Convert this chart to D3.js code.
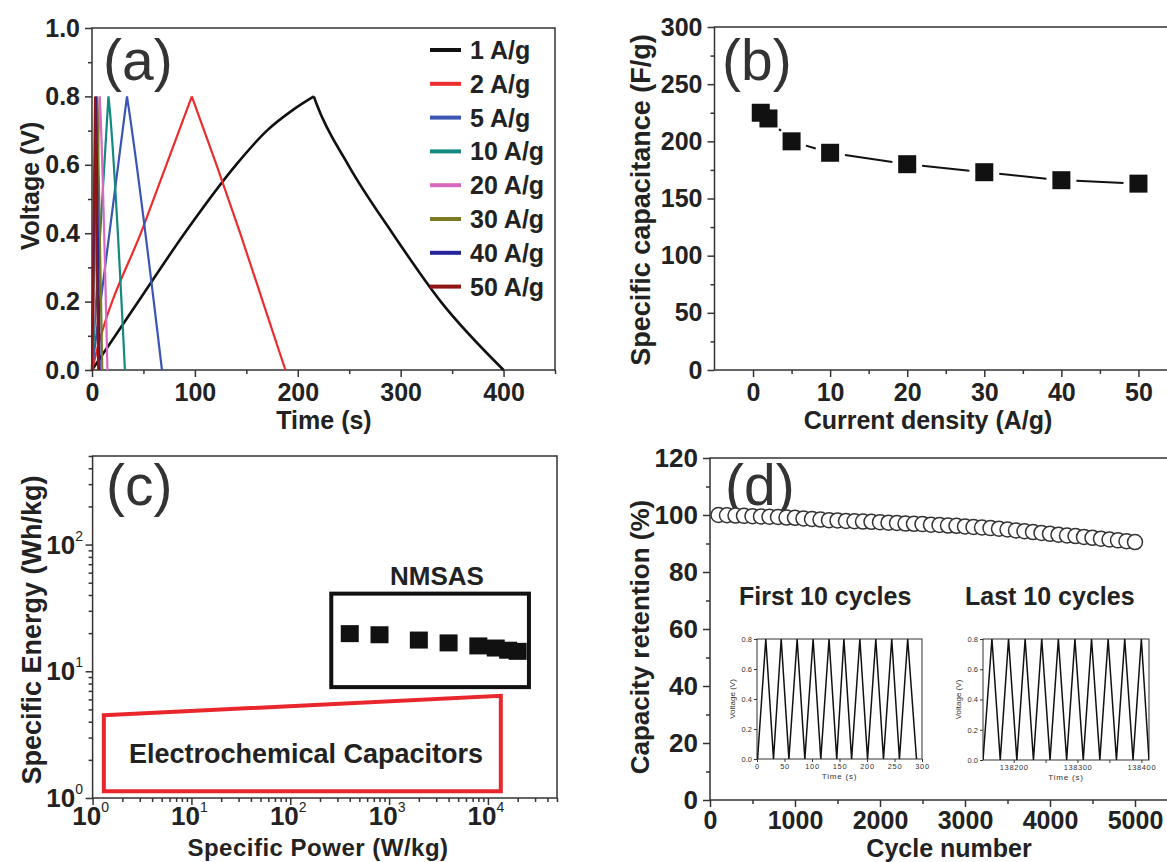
<!DOCTYPE html>
<html>
<head>
<meta charset="utf-8">
<title>Electrochemical performance</title>
<script src="https://cdn.jsdelivr.net/npm/d3@7"></script>
<style>
  body { margin: 0; background: #fff; }
  svg { display: block; font-family: "Liberation Sans", Arial, sans-serif; }
  .axis path.domain { display: none; }
  .axis line { stroke: #333; stroke-width: 1.5; }
  .axis text { font-weight: bold; fill: #222; }
  .frame { fill: none; stroke: #333; stroke-width: 1.5; }
  .title { font-weight: bold; fill: #222; }
  .panelLabel { font-size: 57px; fill: #333; }
  .inset .axis line { stroke-width: 1; }
  .inset .axis text { font-weight: normal; fill: #333; }
</style>
</head>
<body>
<svg id="chart" width="1167" height="862"></svg>
<script>
// (a) galvanostatic charge/discharge, [time (s), voltage (V)]
densities = ["1 A/g", "2 A/g", "5 A/g", "10 A/g", "20 A/g", "30 A/g", "40 A/g", "50 A/g"];
colours = ["#111111", "#ec2d2d", "#3a55b4", "#13897f", "#d868c0", "#7b7a22", "#23249b", "#8e1616"];
gcd1 = [[0, 0], [45, 0.2], [90, 0.4], [140, 0.6], [170, 0.7], [195, 0.76], [215.6, 0.8],
        [218, 0.78], [249, 0.6], [292, 0.4], [339, 0.2], [400, 0]];
gcd2 = [[0, 0], [5, 0.06], [50, 0.42], [97, 0.8],
        [121, 0.6], [144, 0.4], [166, 0.2], [188, 0]];
gcd5 = [[0, 0], [2, 0.05], [34, 0.8], [35.5, 0.77], [68, 0]];
gcd10 = [[0, 0], [1, 0.05], [16, 0.8], [17, 0.77], [32, 0]];
gcd20 = [[0, 0], [7.5, 0.8], [8, 0.77], [15, 0]];
gcd30 = [[0, 0], [5, 0.8], [5.3, 0.77], [10, 0]];
gcd40 = [[0, 0], [3.8, 0.8], [4, 0.77], [7.5, 0]];
gcd50 = [[0, 0], [3, 0.8], [3.2, 0.77], [6, 0]];
gcdCurves = [gcd1, gcd2, gcd5, gcd10, gcd20, gcd30, gcd40, gcd50];

// (b) specific capacitance
currents = [1, 2, 5, 10, 20, 30, 40, 50];
capacitance = [225, 220, 200, 190, 180, 173, 166, 163];

// (c) Ragone plot
power = [400, 800, 2000, 4000, 8000, 12000, 16000, 20000];
energy = [20.0, 19.6, 17.8, 16.9, 16.0, 15.4, 14.8, 14.5];
ecRegion = [[1.3, 4.5], [13500, 6.4], [13500, 1.13], [1.3, 1.13]];
nmsasBox = [[260, 41], [26000, 7.5]];

// (d) cycling stability
cycles = [100, 200, 300, 400, 500, 600, 700, 800, 900, 1000,
          1100, 1200, 1300, 1400, 1500, 1600, 1700, 1800, 1900, 2000,
          2100, 2200, 2300, 2400, 2500, 2600, 2700, 2800, 2900, 3000,
          3100, 3200, 3300, 3400, 3500, 3600, 3700, 3800, 3900, 4000,
          4100, 4200, 4300, 4400, 4500, 4600, 4700, 4800, 4900, 5000];
retention = [100.0, 99.9, 99.8, 99.7, 99.6, 99.5, 99.4, 99.3, 99.1, 99.0,
             98.8, 98.6, 98.4, 98.2, 98.1, 97.9, 97.8, 97.7, 97.6, 97.5,
             97.3, 97.2, 97.0, 96.9, 96.8, 96.6, 96.5, 96.3, 96.2, 96.0,
             95.8, 95.6, 95.4, 95.2, 94.9, 94.6, 94.3, 94.0, 93.7, 93.4,
             93.1, 92.8, 92.6, 92.3, 92.0, 91.7, 91.4, 91.1, 90.8, 90.5];
firstCycT = [1, 16, 30, 44, 58, 73, 87, 102, 116, 131, 145, 158, 172, 187, 201, 216, 230, 245, 259, 274, 290];
firstCycV = [0, 0.8, 0, 0.8, 0, 0.8, 0, 0.8, 0, 0.8, 0, 0.8, 0, 0.8, 0, 0.8, 0, 0.8, 0, 0.8, 0];
lastCycT = [138152, 138166, 138179, 138192, 138205, 138218, 138231, 138244, 138257, 138270, 138283,
            138296, 138309, 138322, 138335, 138348, 138361, 138374, 138387, 138400, 138412];
lastCycV = [0, 0.8, 0, 0.8, 0, 0.8, 0, 0.8, 0, 0.8, 0, 0.8, 0, 0.8, 0, 0.8, 0, 0.8, 0, 0.8, 0];

svg = d3.select("#chart");

function frame(g, x, y) {
  g.append("rect").attr("class", "frame")
    .attr("x", x.range()[0]).attr("y", y.range()[1])
    .attr("width", x.range()[1] - x.range()[0])
    .attr("height", y.range()[0] - y.range()[1]);
}

// draws an axis, shortening the ticks that are not labelled
function axis(g, gen, isMajor, minorSize, fontSize) {
  g.attr("class", "axis").call(gen);
  g.selectAll(".tick text").style("font-size", fontSize + "px");
  g.selectAll(".tick").filter(function(d) { return !isMajor(d); })
    .each(function() {
      let line = d3.select(this).select("line");
      if (line.attr("y2") !== null && +line.attr("y2") !== 0) line.attr("y2", minorSize * Math.sign(+line.attr("y2")));
      else line.attr("x2", minorSize * Math.sign(+line.attr("x2")));
    });
}

function near(a, b) { return Math.abs(a - b) < 1e-6; }

function rotTitle(g, txt, cx, cy, size) {
  g.append("text").attr("class", "title")
    .attr("transform", "translate(" + cx + "," + cy + ") rotate(-90)")
    .attr("text-anchor", "middle").attr("dy", "0.35em")
    .style("font-size", size + "px").text(txt);
}

// ---------- (a)
xA = d3.scaleLinear().domain([0, 450]).range([92, 555]);
yA = d3.scaleLinear().domain([0, 1]).range([370, 28]);
gA = svg.append("g");
axis(gA.append("g").attr("transform", "translate(0,370)"),
  d3.axisBottom(xA).tickValues(d3.range(0, 451, 50)).tickSize(7).tickPadding(6)
    .tickFormat(function(d) { return d % 100 === 0 ? d : ""; }),
  function(d) { return d % 100 === 0; }, 4, 25);
axis(gA.append("g").attr("transform", "translate(92,0)"),
  d3.axisLeft(yA).tickValues(d3.range(0, 11).map(function(i) { return i / 10; })).tickSize(7).tickPadding(5)
    .tickFormat(function(d) { return Math.round(d * 10) % 2 === 0 ? d3.format(".1f")(d) : ""; }),
  function(d) { return Math.round(d * 10) % 2 === 0; }, 4, 25);
frame(gA, xA, yA);
lineA = d3.line().x(function(d) { return xA(d[0]); }).y(function(d) { return yA(d[1]); }).curve(d3.curveMonotoneX);
// charge and discharge branches drawn separately so the peak stays sharp
function gcdPath(pts) {
  let k = d3.maxIndex(pts, function(d) { return d[1]; });
  return lineA(pts.slice(0, k + 1)) + lineA(pts.slice(k));
}
gA.selectAll(".gcd").data(gcdCurves).enter().append("path")
  .attr("class", "gcd")
  .attr("d", gcdPath)
  .attr("fill", "none")
  .attr("stroke", function(d, i) { return colours[i]; })
  .attr("stroke-width", function(d, i) { return i === 0 ? 2.6 : 2.2; })
  .attr("stroke-linejoin", "round");
legendA = gA.selectAll(".key").data(densities).enter().append("g")
  .attr("transform", function(d, i) { return "translate(430," + (50 + i * 33.8) + ")"; });
legendA.append("line").attr("x1", 0).attr("x2", 31)
  .attr("stroke", function(d, i) { return colours[i]; }).attr("stroke-width", 4);
legendA.append("text").attr("x", 40).attr("dy", "0.36em").attr("class", "title")
  .style("font-size", "25px").text(function(d) { return d; });
gA.append("text").attr("class", "panelLabel").attr("x", 103).attr("y", 80).text("(a)");
gA.append("text").attr("class", "title").attr("x", 324).attr("y", 429)
  .attr("text-anchor", "middle").style("font-size", "25px").text("Time (s)");
rotTitle(gA, "Voltage (V)", 30, 186, 25);

// ---------- (b)
xB = d3.scaleLinear().domain([-5, 55]).range([714.5, 1177]);
yB = d3.scaleLinear().domain([0, 300]).range([370, 27]);
gB = svg.append("g");
axis(gB.append("g").attr("transform", "translate(0,370)"),
  d3.axisBottom(xB).tickValues(d3.range(0, 51, 5)).tickSize(7).tickPadding(6)
    .tickFormat(function(d) { return d % 10 === 0 ? d : ""; }),
  function(d) { return d % 10 === 0; }, 4, 25);
axis(gB.append("g").attr("transform", "translate(714.5,0)"),
  d3.axisLeft(yB).tickValues(d3.range(0, 301, 25)).tickSize(7).tickPadding(5)
    .tickFormat(function(d) { return d % 50 === 0 ? d : ""; }),
  function(d) { return d % 50 === 0; }, 4, 25);
frame(gB, xB, yB);
ptsB = currents.map(function(c, i) { return [xB(c), yB(capacitance[i])]; });
for (i = 0; i < ptsB.length - 1; i++) {
  let p = ptsB[i], q = ptsB[i + 1];
  let dx = q[0] - p[0], dy = q[1] - p[1], len = Math.hypot(dx, dy), gap = 15;
  if (len > 2 * gap) {
    gB.append("line")
      .attr("x1", p[0] + dx / len * gap).attr("y1", p[1] + dy / len * gap)
      .attr("x2", q[0] - dx / len * gap).attr("y2", q[1] - dy / len * gap)
      .attr("stroke", "#111").attr("stroke-width", 2);
  }
}
gB.selectAll(".sq").data(currents).enter().append("rect")
  .attr("x", function(d) { return xB(d) - 9; })
  .attr("y", function(d, i) { return yB(capacitance[i]) - 9; })
  .attr("width", 18).attr("height", 18).attr("fill", "#111");
gB.append("text").attr("class", "panelLabel").attr("x", 722).attr("y", 80).text("(b)");
gB.append("text").attr("class", "title").attr("x", 928).attr("y", 429)
  .attr("text-anchor", "middle").style("font-size", "25px").text("Current density (A/g)");
rotTitle(gB, "Specific capacitance (F/g)", 641, 200, 27);

// ---------- (c)
xC = d3.scaleLog().domain([1, 50000]).range([92.6, 557]);
yC = d3.scaleLog().domain([1, 500]).range([798, 456]);
gC = svg.append("g");
logTicks = function(lo, hi) {
  let out = [];
  for (let k = 1; k <= hi; k *= 10) {
    for (let m = 1; m < 10; m++) if (m * k >= lo && m * k <= hi) out.push(m * k);
  }
  return out;
};
isPow = function(d) { return near(Math.log10(d), Math.round(Math.log10(d))); };
axis(gC.append("g").attr("transform", "translate(0,798)"),
  d3.axisBottom(xC).tickValues(logTicks(1, 50000)).tickSize(7).tickFormat(""),
  isPow, 4, 25);
axis(gC.append("g").attr("transform", "translate(92.6,0)"),
  d3.axisLeft(yC).tickValues(logTicks(1, 500)).tickSize(7).tickFormat(""),
  isPow, 4, 25);
frame(gC, xC, yC);
[1, 10, 100, 1000, 10000].forEach(function(v) {
  let t = gC.append("text").attr("class", "title").attr("x", xC(v) - 2).attr("y", 825)
    .attr("text-anchor", "middle").style("font-size", "26px");
  t.append("tspan").text("10");
  t.append("tspan").attr("dy", -13).style("font-size", "14px").style("font-weight", "normal")
    .text(Math.round(Math.log10(v)));
});
[1, 10, 100].forEach(function(v) {
  let t = gC.append("text").attr("class", "title").attr("x", 83).attr("y", yC(v) + 9)
    .attr("text-anchor", "end").style("font-size", "26px");
  t.append("tspan").text("10");
  t.append("tspan").attr("dy", -13).style("font-size", "14px").style("font-weight", "normal")
    .text(Math.round(Math.log10(v)));
});
gC.append("path")
  .attr("d", d3.line().x(function(d) { return xC(d[0]); }).y(function(d) { return yC(d[1]); }).curve(d3.curveLinearClosed)(ecRegion))
  .attr("fill", "none").attr("stroke", "#e8262c").attr("stroke-width", 4);
gC.append("rect")
  .attr("x", xC(nmsasBox[0][0])).attr("y", yC(nmsasBox[0][1]))
  .attr("width", xC(nmsasBox[1][0]) - xC(nmsasBox[0][0]))
  .attr("height", yC(nmsasBox[1][1]) - yC(nmsasBox[0][1]))
  .attr("fill", "none").attr("stroke", "#111").attr("stroke-width", 4);
gC.selectAll(".sq").data(power).enter().append("rect")
  .attr("x", function(d) { return xC(d) - 9; })
  .attr("y", function(d, i) { return yC(energy[i]) - 8; })
  .attr("width", 18).attr("height", 17).attr("fill", "#111");
gC.append("text").attr("class", "title").attr("x", 437).attr("y", 585)
  .attr("text-anchor", "middle").style("font-size", "26px").text("NMSAS");
gC.append("text").attr("class", "title").attr("x", 306).attr("y", 763)
  .attr("text-anchor", "middle").style("font-size", "27px").text("Electrochemical Capacitors");
gC.append("text").attr("class", "panelLabel").attr("x", 106).attr("y", 505).text("(c)");
gC.append("text").attr("class", "title").attr("x", 318).attr("y", 856)
  .attr("text-anchor", "middle").style("font-size", "24px").style("letter-spacing", "0.5px")
  .text("Specific Power (W/kg)");
rotTitle(gC, "Specific Energy (Wh/kg)", 32, 630, 27);

// ---------- (d)
xD = d3.scaleLinear().domain([0, 5500]).range([710, 1177.5]);
yD = d3.scaleLinear().domain([0, 120]).range([800, 458]);
gD = svg.append("g");
axis(gD.append("g").attr("transform", "translate(0,800)"),
  d3.axisBottom(xD).tickValues(d3.range(0, 5001, 500)).tickSize(7).tickPadding(4)
    .tickFormat(function(d) { return d % 1000 === 0 ? d : ""; }),
  function(d) { return d % 1000 === 0; }, 4, 25);
axis(gD.append("g").attr("transform", "translate(710,0)"),
  d3.axisLeft(yD).tickValues(d3.range(0, 121, 10)).tickSize(7).tickPadding(5)
    .tickFormat(function(d) { return d % 20 === 0 ? d : ""; }),
  function(d) { return d % 20 === 0; }, 4, 26);
frame(gD, xD, yD);
gD.append("text").attr("class", "panelLabel").attr("x", 725).attr("y", 505).text("(d)");
gD.selectAll(".ring").data(cycles).enter().append("circle")
  .attr("cx", function(d) { return xD(d); })
  .attr("cy", function(d, i) { return yD(retention[i]); })
  .attr("r", 7.5).attr("fill", "#fff").attr("stroke", "#333").attr("stroke-width", 1.5);
gD.append("text").attr("class", "title").attr("x", 739).attr("y", 605)
  .style("font-size", "25px").text("First 10 cycles");
gD.append("text").attr("class", "title").attr("x", 965).attr("y", 605)
  .style("font-size", "25px").text("Last 10 cycles");
gD.append("text").attr("class", "title").attr("x", 949).attr("y", 857)
  .attr("text-anchor", "middle").style("font-size", "25px").text("Cycle number");
rotTitle(gD, "Capacity retention (%)", 640, 637, 26);

// insets
function inset(x, y, ts, vs, xTicks, xLabel) {
  let g = gD.append("g").attr("class", "inset");
  let id = "clip" + Math.round(x.range()[0]);
  g.append("clipPath").attr("id", id).append("rect")
    .attr("x", x.range()[0]).attr("y", y.range()[1] - 2)
    .attr("width", x.range()[1] - x.range()[0]).attr("height", y.range()[0] - y.range()[1] + 2);
  let ax = g.append("g").attr("class", "axis").attr("transform", "translate(0," + y.range()[0] + ")")
    .call(d3.axisBottom(x).tickValues(xTicks).tickSize(3).tickPadding(2).tickFormat(xLabel));
  ax.selectAll("text").style("font-size", "7.5px").style("letter-spacing", "0.6px");
  let ay = g.append("g").attr("class", "axis").attr("transform", "translate(" + x.range()[0] + ",0)")
    .call(d3.axisLeft(y).tickValues([0, 0.2, 0.4, 0.6, 0.8]).tickSize(3).tickPadding(2).tickFormat(d3.format(".1f")));
  ay.selectAll("text").style("font-size", "7.5px");
  g.append("rect").attr("x", x.range()[0]).attr("y", y.range()[1])
    .attr("width", x.range()[1] - x.range()[0]).attr("height", y.range()[0] - y.range()[1])
    .attr("fill", "none").attr("stroke", "#333").attr("stroke-width", 1);
  g.append("path")
    .attr("d", d3.line().x(function(d) { return x(d); }).y(function(d, i) { return y(vs[i]); })(ts))
    .attr("clip-path", "url(#" + id + ")")
    .attr("fill", "none").attr("stroke", "#111").attr("stroke-width", 1.5);
  g.append("text").attr("x", (x.range()[0] + x.range()[1]) / 2).attr("y", y.range()[0] + 20)
    .attr("text-anchor", "middle").style("font-size", "8px").style("letter-spacing", "0.8px")
    .attr("fill", "#333").text("Time (s)");
  g.append("text")
    .attr("transform", "translate(" + (x.range()[0] - 25) + "," + ((y.range()[0] + y.range()[1]) / 2) + ") rotate(-90)")
    .attr("text-anchor", "middle").attr("dy", "0.35em").style("font-size", "8px")
    .attr("fill", "#333").text("Voltage (V)");
}
inset(d3.scaleLinear().domain([0, 300]).range([757, 922]), d3.scaleLinear().domain([0, 0.8]).range([759, 639]),
  firstCycT, firstCycV, d3.range(0, 301, 50), function(d) { return d; });
inset(d3.scaleLinear().domain([138152, 138412]).range([983, 1149]), d3.scaleLinear().domain([0, 0.8]).range([760, 639]),
  lastCycT, lastCycV, [138200, 138250, 138300, 138350, 138400],
  function(d) { return d % 100 === 0 ? d : ""; });
</script>
</body>
</html>
